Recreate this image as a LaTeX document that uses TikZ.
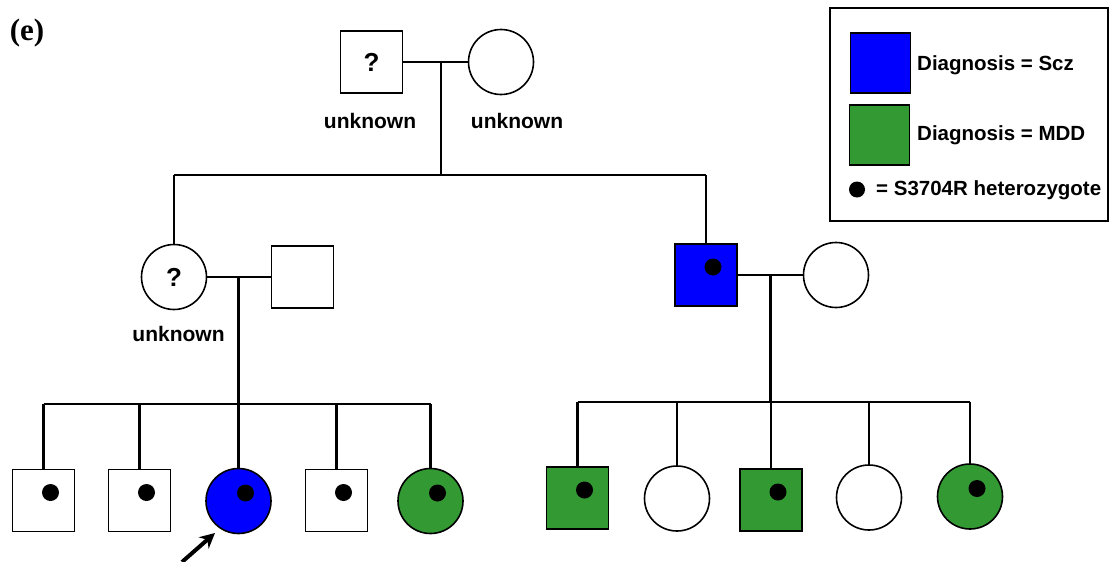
\documentclass[tikz,border=0pt]{standalone}
\usepackage{fontspec}
\setmainfont{Liberation Sans}
\newfontfamily\panelfont{Liberation Serif}
\usetikzlibrary{arrows.meta,calc}
\definecolor{sczblue}{RGB}{0,0,255}
\definecolor{mddgreen}{RGB}{51,153,51}
\begin{document}
\begin{tikzpicture}[x=1pt,y=-1pt,
  male/.style={draw,rectangle,minimum width=62pt,minimum height=62pt,inner sep=0pt,line width=1.6pt,fill=white},
  female/.style={draw,circle,minimum size=65pt,inner sep=0pt,line width=1.6pt,fill=white},
  scz/.style={fill=sczblue},
  mdd/.style={fill=mddgreen},
  link/.style={line width=2.2pt},
  lbl/.style={font=\fontsize{21}{24}\selectfont\bfseries},
  keytext/.style={anchor=west,font=\fontsize{20.5}{24}\selectfont\bfseries,inner sep=0pt},
  qmark/.style={font=\fontsize{26}{28}\selectfont\bfseries},
  carrier/.style={circle,fill=black,minimum size=17pt,inner sep=0pt}
]
\useasboundingbox (0,0) rectangle (1111,562);

% panel letter
\node[font=\panelfont\fontsize{31}{34}\selectfont\bfseries] (panel) at (27,33) {(e)};

% generation I
\node[male,qmark] (gf) at (371.5,62) {?};
\node[female] (gm) at (501,62) {};
\node[lbl] (ugf) at (370,121) {unknown};
\node[lbl] (ugm) at (517,121) {unknown};
\coordinate (m0) at (441,62);
\coordinate (s0) at (441,175);
\coordinate (s0l) at (174,175);
\coordinate (s0r) at (706,175);
\draw[link] (gf.east) -- (gm.west);
\draw[link] (m0) -- (s0);
\draw[link] (s0l) -- (s0r);

% generation II, left couple
\node[female,qmark] (mo) at (174,277) {?};
\node[male] (fa) at (302.5,277) {};
\node[lbl] (umo) at (178.5,334) {unknown};
\coordinate (m1) at (238.5,277);
\coordinate (s1) at (238.5,404);
\draw[link] (s0l) -- (mo.north);
\draw[link] (mo.east) -- (fa.west);
\draw[link] (m1) -- (s1);

% generation II, right couple
\node[male,scz] (un) at (706,275) {};
\node[female] (wi) at (836,275) {};
\coordinate (m2) at (770.5,275);
\coordinate (s2) at (770.5,402);
\draw[link] (s0r) -- (un.north);
\draw[link] (un.east) -- (wi.west);
\draw[link] (m2) -- (s2);

% generation III, left sibship
\node[male] (a1) at (43.5,500.5) {};
\node[male] (a2) at (139.5,500.5) {};
\node[female,scz] (a3) at (238.5,501) {};
\node[male] (a4) at (336.5,500.5) {};
\node[female,mdd] (a5) at (430.5,501) {};
\draw[link] (a1.north |- s1) -- (a5.north |- s1);
\foreach \c in {a1,a2,a3,a4,a5} \draw[link] (\c.north |- s1) -- (\c.north);

% generation III, right sibship
\node[male,mdd] (b1) at (577.5,498) {};
\node[female] (b2) at (677,498.5) {};
\node[male,mdd] (b3) at (771,500) {};
\node[female] (b4) at (869,497.5) {};
\node[female,mdd] (b5) at (970,496.5) {};
\draw[link] (b1.north |- s2) -- (b5.north |- s2);
\foreach \c in {b1,b2,b3,b4,b5} \draw[link] (\c.north |- s2) -- (\c.north);

% S3704R carriers
\foreach \c in {a1,a2,a3,a4,a5,un,b1,b3,b5}
  \node[carrier] at ($(\c.center)+(7,-8)$) {};

% proband arrow
\coordinate (pa) at (182,562);
\coordinate (pb) at (215,533);
\draw[line width=4pt,-{Stealth[length=15pt,width=15pt]}] (pa) -- (pb);

% legend
\draw[line width=1.3pt] (830,8) rectangle (1108,221);
\node[draw,line width=1.3pt,scz,minimum width=60pt,minimum height=60pt,inner sep=0pt] (kscz) at (880.5,63) {};
\node[draw,line width=1.3pt,mdd,minimum width=60pt,minimum height=60pt,inner sep=0pt] (kmdd) at (879.5,135) {};
\node[keytext] (tscz) at (917,65) {Diagnosis = Scz};
\node[keytext] (tmdd) at (917,135) {Diagnosis = MDD};
\node[carrier,minimum size=16pt] (kdot) at (857,189.5) {};
\node[keytext] (tdot) at (876,190.5) {= S3704R heterozygote};
\end{tikzpicture}
\end{document}
